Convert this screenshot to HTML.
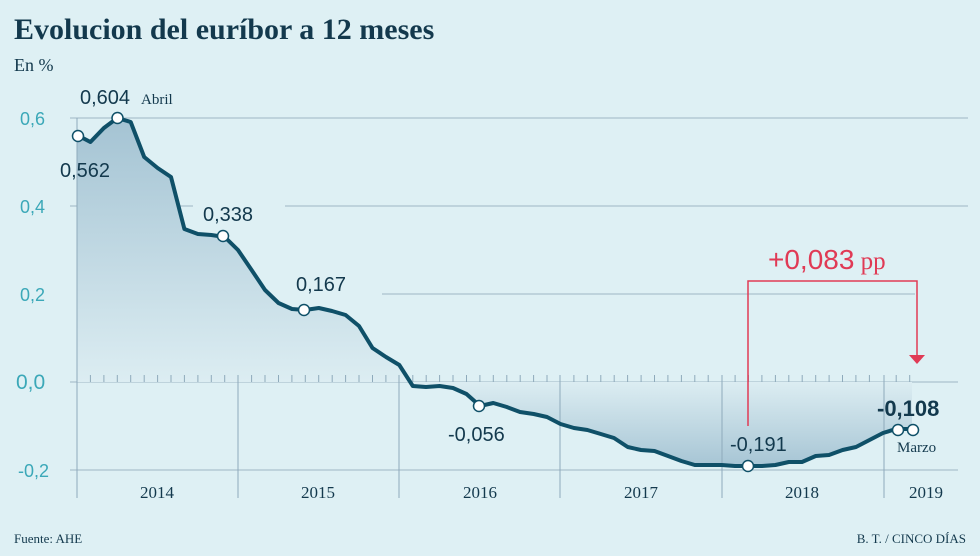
<!DOCTYPE html>
<html><head><meta charset="utf-8"><style>
body{margin:0;background:#def0f4;}
svg{display:block}
</style></head><body>
<svg width="980" height="556" viewBox="0 0 980 556" xmlns="http://www.w3.org/2000/svg">
<defs>
<linearGradient id="g" gradientUnits="userSpaceOnUse" x1="0" y1="118" x2="0" y2="470">
<stop offset="0" stop-color="#a4c3d3"/>
<stop offset="0.75" stop-color="#dcedf2"/>
<stop offset="1" stop-color="#a4c3d3"/>
</linearGradient>
</defs>
<rect width="980" height="556" fill="#def0f4"/>
<text x="14" y="39" font-family="Liberation Serif, serif" font-weight="bold" font-size="30" fill="#13394d">Evolucion del euríbor a 12 meses</text>
<text x="14" y="71" font-family="Liberation Serif, serif" font-size="18" fill="#13394d">En %</text>
<g stroke="#9db6c4" stroke-width="1">
<line x1="70" y1="118" x2="968" y2="118"/>
<line x1="70" y1="206" x2="193" y2="206"/><line x1="285" y1="206" x2="968" y2="206"/>
<line x1="382" y1="294" x2="915" y2="294"/>
<line x1="70" y1="382" x2="958" y2="382"/>
<line x1="70" y1="470" x2="958" y2="470"/>
</g>
<polygon fill="url(#g)" points="77,382 77,135 90.4,142 103.9,128 117.3,118 130.7,122 144.2,157 157.6,168 171,177 184.4,229 197.9,234 211.3,235 224.7,237 238,250 251.6,270 265,290 278.5,303 292,309 305,310 318.8,308 332,311 345.6,315 359,326 372.5,348 386,357 399.3,365 412.8,386 426,387 439.6,386 453,388 466.5,394 480,406 493.3,403 506.8,407 520,412 533.7,414 547,417 560.5,424 574,428 587.4,430 600.8,434 614,438 627.7,447 641,450 654.5,451 668,456 681.4,461 694.8,465 708,465 721.7,465 735,466 748.6,466 762,466 775.4,465 788.8,462 802,462 815.7,456 829,455 842.6,450 856,447 869.5,440 883,433 896,429 912,429 912,382"/>
<g stroke="#8eaabb" stroke-width="1">
<line x1="77" y1="118" x2="77" y2="498"/>
<line x1="238" y1="382" x2="238" y2="498"/>
<line x1="399" y1="382" x2="399" y2="498"/>
<line x1="560" y1="382" x2="560" y2="498"/>
<line x1="722" y1="382" x2="722" y2="498"/>
<line x1="884" y1="382" x2="884" y2="498"/>
</g>
<path stroke="#8eaabb" stroke-width="1" fill="none" d="M90.4 375v7M103.9 375v7M117.3 375v7M130.7 375v7M144.2 375v7M157.6 375v7M171 375v7M184.4 375v7M197.9 375v7M211.3 375v7M224.7 375v7M238 375v7M251.6 375v7M265 375v7M278.5 375v7M291.9 375v7M305.3 375v7M318.7 375v7M332.2 375v7M345.6 375v7M359 375v7M372.5 375v7M385.9 375v7M399 375v7M412.8 375v7M426.2 375v7M439.6 375v7M453 375v7M466.5 375v7M479.9 375v7M493.3 375v7M506.8 375v7M520.2 375v7M533.6 375v7M547 375v7M560 375v7M573.9 375v7M587.3 375v7M600.8 375v7M614.2 375v7M627.6 375v7M641.1 375v7M654.5 375v7M667.9 375v7M681.4 375v7M694.8 375v7M708.2 375v7M722 375v7M735.1 375v7M748.5 375v7M761.9 375v7M775.4 375v7M788.8 375v7M802.2 375v7M815.7 375v7M829.1 375v7M842.5 375v7M855.9 375v7M869.4 375v7M884 375v7M896.2 375v7M909.7 375v7"/>
<polyline fill="none" stroke="#0f5068" stroke-width="4" stroke-linejoin="round" points="77,135 90.4,142 103.9,128 117.3,118 130.7,122 144.2,157 157.6,168 171,177 184.4,229 197.9,234 211.3,235 224.7,237 238,250 251.6,270 265,290 278.5,303 292,309 305,310 318.8,308 332,311 345.6,315 359,326 372.5,348 386,357 399.3,365 412.8,386 426,387 439.6,386 453,388 466.5,394 480,406 493.3,403 506.8,407 520,412 533.7,414 547,417 560.5,424 574,428 587.4,430 600.8,434 614,438 627.7,447 641,450 654.5,451 668,456 681.4,461 694.8,465 708,465 721.7,465 735,466 748.6,466 762,466 775.4,465 788.8,462 802,462 815.7,456 829,455 842.6,450 856,447 869.5,440 883,433 896,429 912,429"/>
<g fill="#fff" stroke="#0f5068" stroke-width="1.5">
<circle cx="78" cy="136" r="5.5"/><circle cx="117.5" cy="118" r="5.5"/><circle cx="223" cy="236" r="5.5"/>
<circle cx="304" cy="310" r="5.5"/><circle cx="479" cy="406" r="5.5"/><circle cx="748" cy="466" r="5.5"/>
<circle cx="898" cy="430" r="5.5"/><circle cx="913" cy="430" r="5.5"/>
</g>
<g font-family="Liberation Sans, sans-serif" font-size="18" fill="#3ba8b8">
<text x="20" y="125">0,6</text><text x="20" y="213">0,4</text><text x="20" y="301">0,2</text>
<text x="16" y="389" font-size="21">0,0</text><text x="18" y="477">-0,2</text>
</g>
<g font-family="Liberation Sans, sans-serif" font-size="20" fill="#13394d">
<text x="60" y="177">0,562</text>
<text x="80" y="104">0,604</text>
<text x="203" y="221">0,338</text>
<text x="296" y="291">0,167</text>
<text x="448" y="441">-0,056</text>
<text x="730" y="451">-0,191</text>
<text x="877" y="416" font-weight="bold" font-size="22">-0,108</text>
</g>
<text x="141" y="104" font-family="Liberation Serif, serif" font-size="15" fill="#13394d">Abril</text>
<text x="897" y="452" font-family="Liberation Serif, serif" font-size="15" fill="#13394d">Marzo</text>
<g font-family="Liberation Serif, serif" font-size="17" fill="#13394d" text-anchor="middle">
<text x="157" y="498">2014</text><text x="318" y="498">2015</text><text x="480" y="498">2016</text>
<text x="641" y="498">2017</text><text x="802" y="498">2018</text><text x="926" y="498">2019</text>
</g>
<g font-family="Liberation Serif, serif" font-size="13" fill="#13394d">
<text x="14" y="543">Fuente: AHE</text>
<text x="966" y="543" text-anchor="end">B. T. / CINCO DÍAS</text>
</g>
<polyline fill="none" stroke="#e03a55" stroke-width="1.5" points="748,426 748,281 917,281 917,358"/>
<polygon fill="#e03a55" points="909,355 925,355 917,364"/>
<text x="768" y="269" font-family="Liberation Sans, sans-serif" font-size="28" fill="#e03a55">+0,083<tspan font-family="Liberation Serif, serif" font-size="25"> pp</tspan></text>
</svg>
</body></html>
